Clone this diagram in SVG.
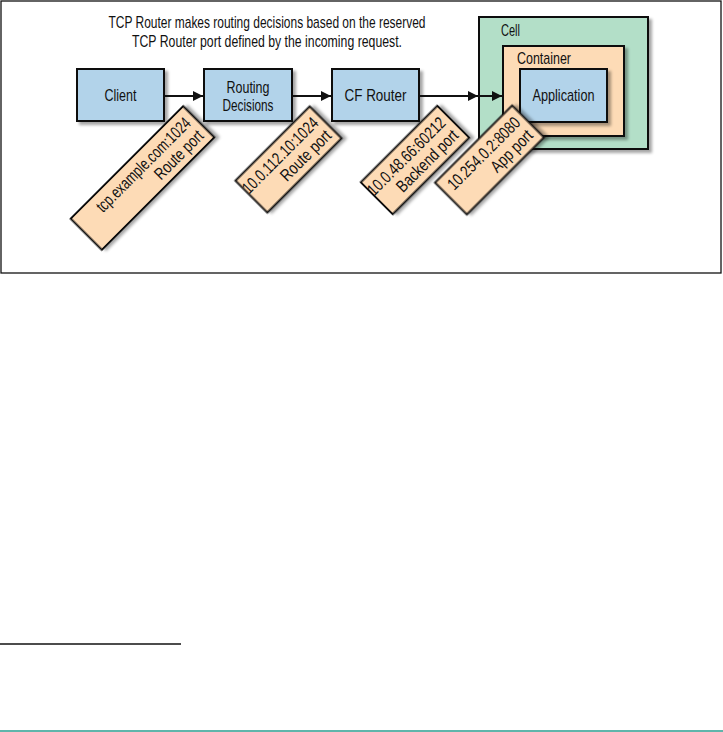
<svg xmlns="http://www.w3.org/2000/svg" width="723" height="732" viewBox="0 0 723 732">
<style>
text{font-family:"Liberation Sans Narrow","Liberation Sans",Arial,sans-serif;font-size:17px;fill:#111}
.box{fill:#b2d3ea;stroke:#111;stroke-width:2;filter:url(#sh)}
.peach{fill:#fddbb6;stroke:#111;stroke-width:2;filter:url(#sh)}
.green{fill:#b3dfc8;stroke:#111;stroke-width:2;filter:url(#sh)}
.c{text-anchor:middle}
.e{text-anchor:end}
.conn{stroke:#111;stroke-width:2;fill:none;marker-end:url(#ah)}
</style>
<defs>
<filter id="sh" x="-10%" y="-10%" width="130%" height="130%">
<feDropShadow dx="3" dy="3" stdDeviation="1.8" flood-color="#000" flood-opacity="0.35"/>
</filter>
<marker id="ah" viewBox="0 0 10 10" refX="10" refY="5" markerWidth="5.5" markerHeight="5" markerUnits="strokeWidth" orient="auto">
<path d="M0,0 L10,5 L0,10 z" fill="#111"/>
</marker>
</defs>
<rect x="1" y="1" width="720" height="272" fill="#fff" stroke="#111" stroke-width="1.3"/>
<g id="title">
<text class="c" x="267" y="28" textLength="317" lengthAdjust="spacingAndGlyphs">TCP Router makes routing decisions based on the reserved</text>
<text class="c" x="267" y="47" textLength="270" lengthAdjust="spacingAndGlyphs">TCP Router port defined by the incoming request.</text>
</g>
<g id="cell">
<rect class="green" x="479" y="17" width="169" height="132"/>
<text x="501" y="36" textLength="19" lengthAdjust="spacingAndGlyphs">Cell</text>
</g>
<g id="container">
<rect class="peach" x="503" y="46" width="121" height="90"/>
<text x="517" y="64" textLength="54" lengthAdjust="spacingAndGlyphs">Container</text>
</g>
<g id="application">
<rect class="box" x="520" y="69" width="87" height="53"/>
<text class="c" x="563.5" y="101" textLength="62" lengthAdjust="spacingAndGlyphs">Application</text>
</g>
<g id="client">
<rect class="box" x="77" y="69" width="87" height="52"/>
<text class="c" x="120.5" y="101" textLength="32" lengthAdjust="spacingAndGlyphs">Client</text>
</g>
<g id="routing">
<rect class="box" x="204" y="69" width="88" height="52"/>
<text class="c" x="248" y="93" textLength="43" lengthAdjust="spacingAndGlyphs">Routing</text>
<text class="c" x="248" y="111" textLength="51" lengthAdjust="spacingAndGlyphs">Decisions</text>
</g>
<g id="cfrouter">
<rect class="box" x="332" y="69" width="87" height="52"/>
<text class="c" x="375.5" y="101" textLength="62" lengthAdjust="spacingAndGlyphs">CF Router</text>
</g>
<g id="connectors">
<line class="conn" x1="165" y1="96" x2="203" y2="96"/>
<line class="conn" x1="293" y1="96" x2="331" y2="96"/>
<line class="conn" x1="420" y1="96" x2="478" y2="96"/>
<line class="conn" x1="478" y1="96" x2="502" y2="96"/>
</g>
<g id="tag-client" transform="translate(142.5,178) rotate(-45)">
<rect class="peach" x="-79.5" y="-22" width="159" height="44"/>
<text class="e" x="73" y="-3" textLength="126" lengthAdjust="spacingAndGlyphs">tcp.example.com:1024</text>
<text class="e" x="73" y="15" textLength="62" lengthAdjust="spacingAndGlyphs">Route port</text>
</g>
<g id="tag-routing" transform="translate(288.5,159.5) rotate(-45)">
<rect class="peach" x="-52.5" y="-22.5" width="105" height="45"/>
<text class="e" x="47" y="-3" textLength="100" lengthAdjust="spacingAndGlyphs">10.0.112.10:1024</text>
<text class="e" x="47" y="15" textLength="64" lengthAdjust="spacingAndGlyphs">Route port</text>
</g>
<g id="tag-backend" transform="translate(415,160) rotate(-45)">
<rect class="peach" x="-54" y="-22.5" width="108" height="45"/>
<text class="e" x="48" y="-3" textLength="103" lengthAdjust="spacingAndGlyphs">10.0.48.66:60212</text>
<text class="e" x="48" y="15" textLength="80" lengthAdjust="spacingAndGlyphs">Backend port</text>
</g>
<g id="tag-app" transform="translate(489.5,160) rotate(-45)">
<rect class="peach" x="-54.5" y="-22.5" width="109" height="45"/>
<text class="e" x="48" y="-3" textLength="95" lengthAdjust="spacingAndGlyphs">10.254.0.2:8080</text>
<text class="e" x="48" y="15" textLength="52" lengthAdjust="spacingAndGlyphs">App port</text>
</g>
<line x1="0" y1="644" x2="181" y2="644" stroke="#111" stroke-width="1.3"/>
<line x1="0" y1="731" x2="723" y2="731" stroke="#2a9d8f" stroke-width="1.5"/>
</svg>
